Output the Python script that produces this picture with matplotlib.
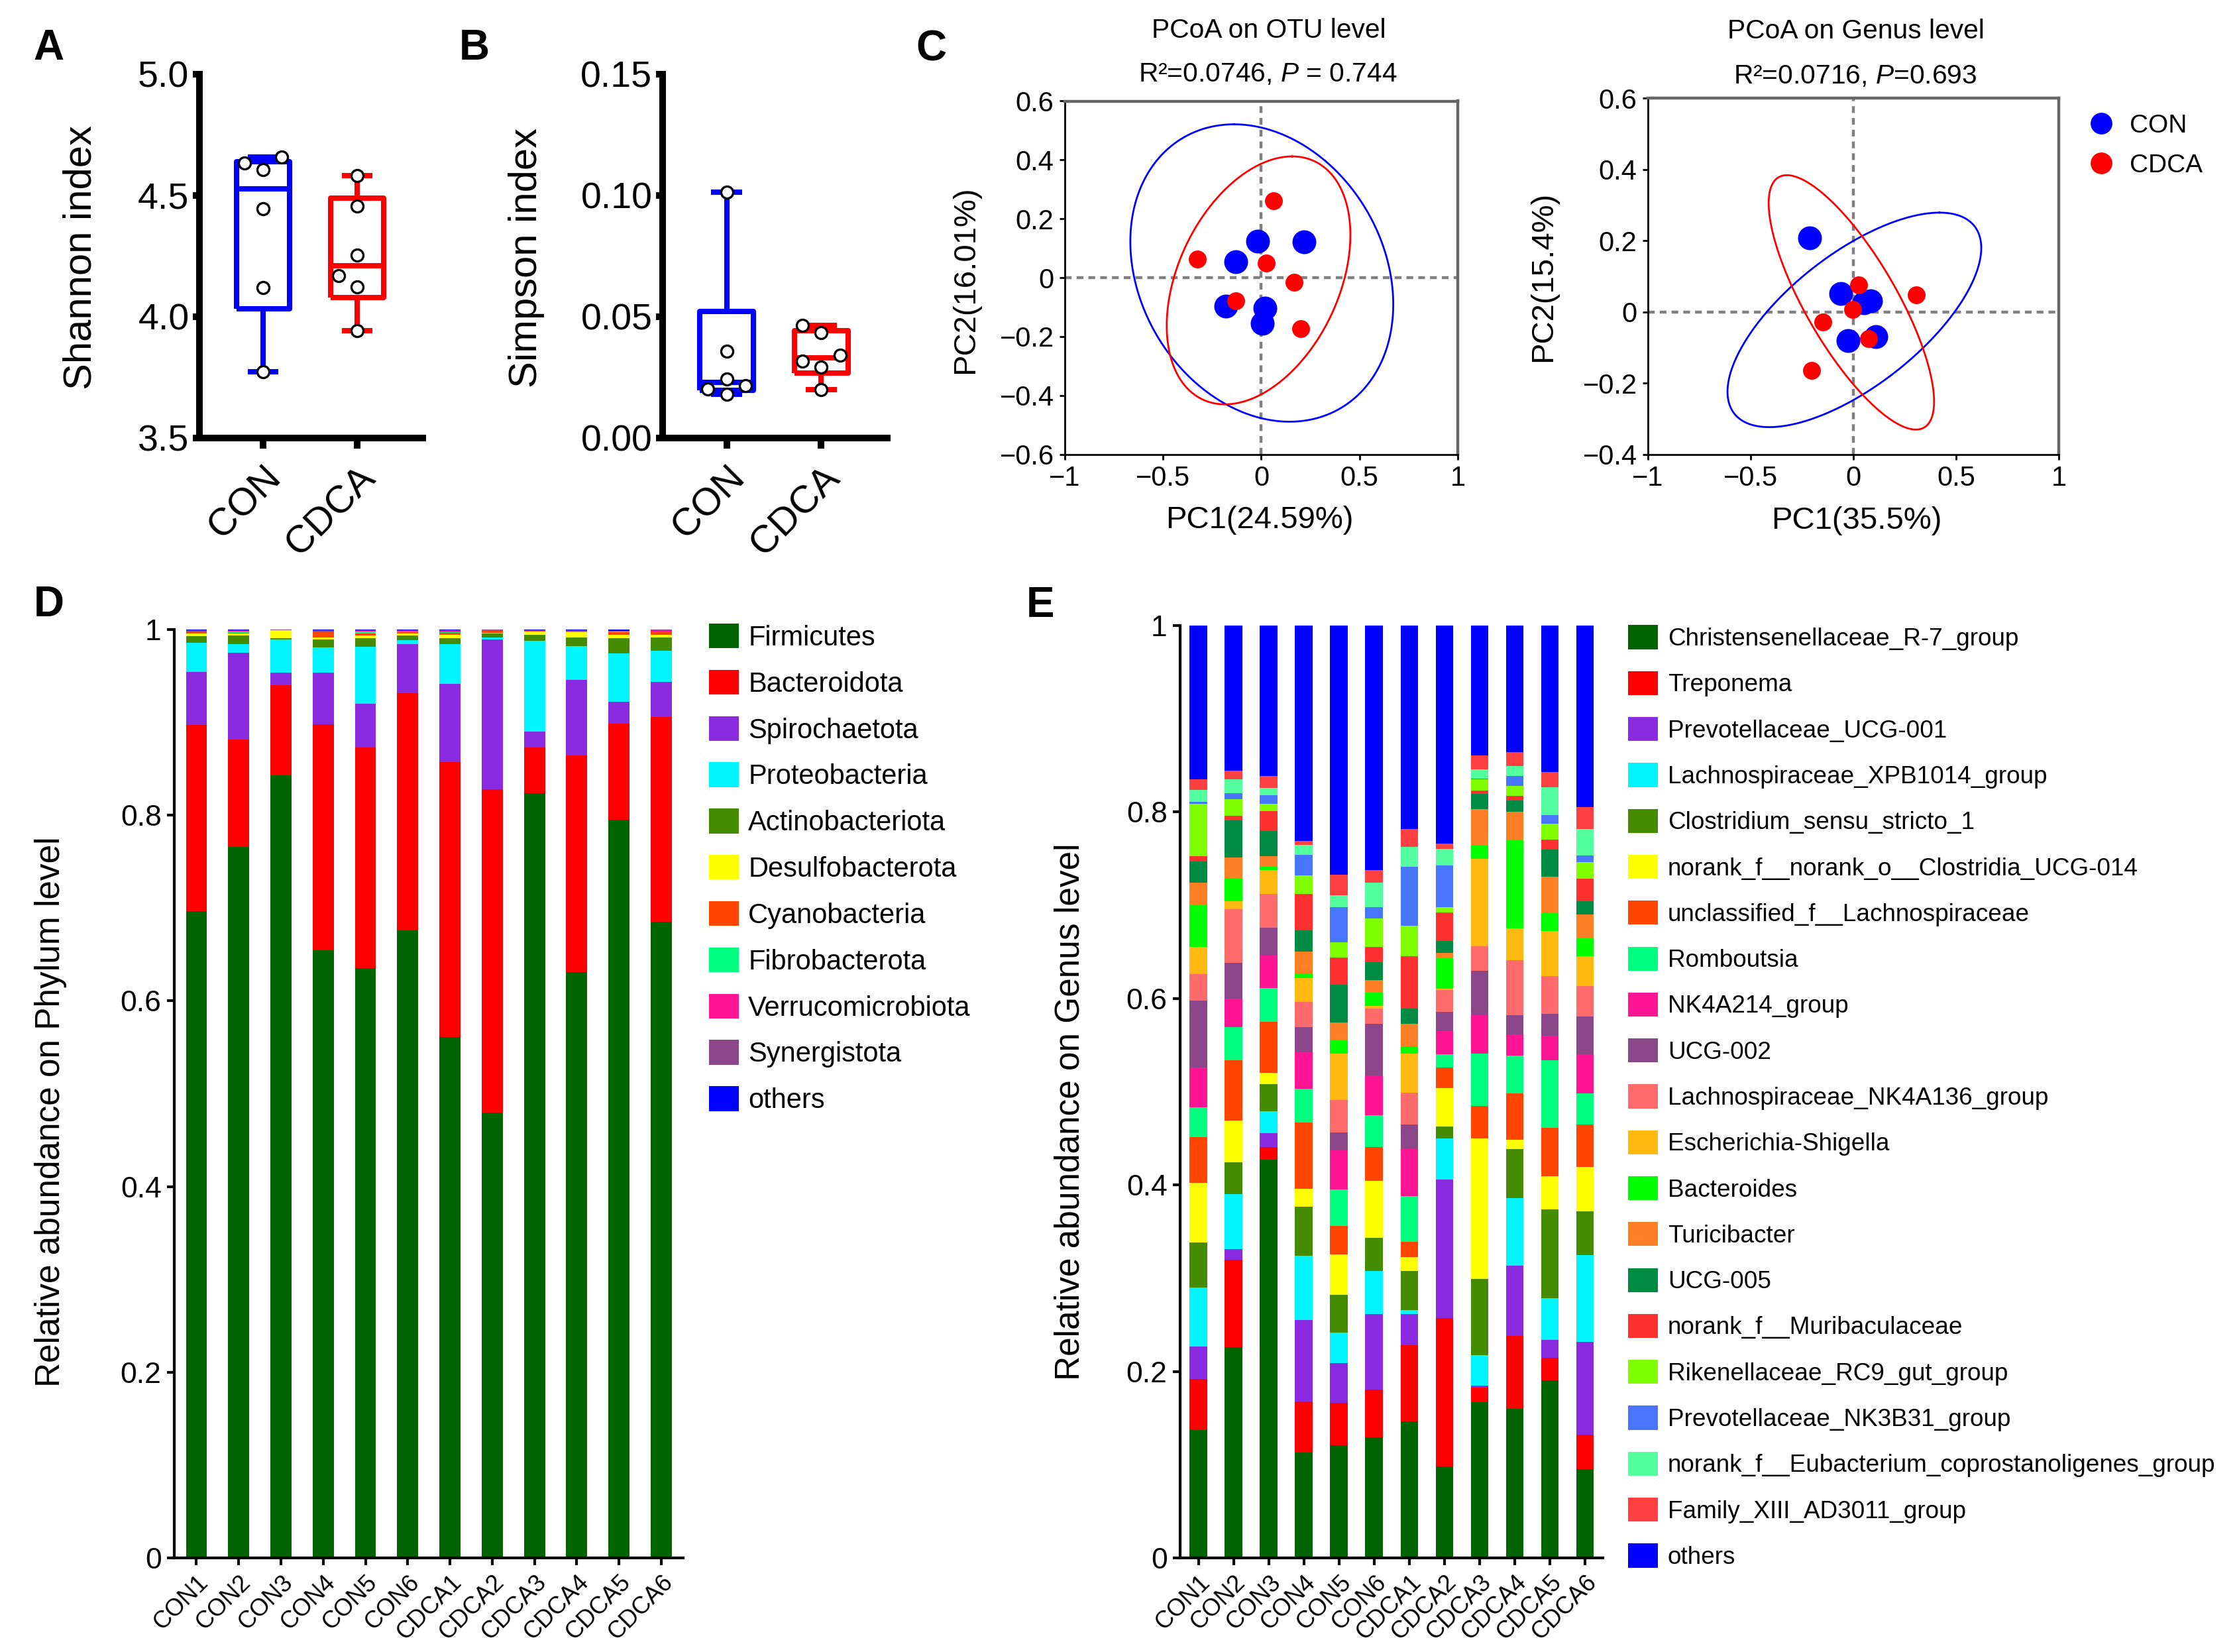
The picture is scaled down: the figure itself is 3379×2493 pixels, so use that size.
import numpy as np
import matplotlib
matplotlib.use('Agg')
import matplotlib.pyplot as plt
from matplotlib.lines import Line2D
from matplotlib.patches import Patch

plt.rcParams['font.family'] = ['Liberation Sans', 'DejaVu Sans']
plt.rcParams['mathtext.fontset'] = 'custom'
plt.rcParams['mathtext.rm'] = 'Liberation Sans'
plt.rcParams['mathtext.it'] = 'Liberation Sans:italic'

W, H = 3380, 2493
DPI = 200

# ---------------- data ----------------
groups = ['CON', 'CDCA']
samples = ['CON1', 'CON2', 'CON3', 'CON4', 'CON5', 'CON6',
           'CDCA1', 'CDCA2', 'CDCA3', 'CDCA4', 'CDCA5', 'CDCA6']

shannon_con = [4.634, 4.657, 4.607, 4.444, 4.120, 3.773]
shannon_cdca = [4.581, 4.456, 4.254, 4.168, 4.123, 3.942]
simpson_con = [0.1012, 0.0357, 0.0217, 0.0179, 0.0201, 0.0243]
simpson_cdca = [0.0464, 0.0435, 0.0342, 0.0317, 0.0291, 0.0198]

# PCoA scores
otu_con_pc1 = [-0.0185, 0.2167, -0.130, -0.180, 0.0185, 0.0056]
otu_con_pc2 = [0.125, 0.122, 0.054, -0.0975, -0.104, -0.1556]
otu_cdca_pc1 = [0.061, -0.324, 0.024, 0.1667, -0.130, 0.200]
otu_cdca_pc2 = [0.2605, 0.064, 0.0506, -0.016, -0.079, -0.174]
genus_con_pc1 = [-0.213, -0.0623, 0.0516, 0.084, -0.0248, 0.1087]
genus_con_pc2 = [0.207, 0.052, 0.026, 0.031, -0.081, -0.070]
genus_cdca_pc1 = [0.026, 0.305, -0.004, -0.148, 0.074, -0.203]
genus_cdca_pc2 = [0.0755, 0.0477, 0.006, -0.028, -0.075, -0.165]

# confidence ellipses: centre, two conjugate semi-diameters
otu_con_ell = ((0.0025, 0.016), (-0.1415, 0.505), (0.654, 0.0))
otu_cdca_ell = ((-0.014, -0.009), (0.171, 0.421), (0.435, 0.0))
genus_con_ell = ((0.005, -0.0225), (0.414, 0.301), (0.4584, 0.0))
genus_cdca_ell = ((-0.0097, 0.0266), (-0.314, 0.357), (0.252, 0.0))

phyla = ['Firmicutes', 'Bacteroidota', 'Spirochaetota', 'Proteobacteria',
         'Actinobacteriota', 'Desulfobacterota', 'Cyanobacteria', 'Fibrobacterota',
         'Verrucomicrobiota', 'Synergistota', 'others']
phylum_colors = ['#006400', '#FF0000', '#8A2BE2', '#00F5FF', '#458B00', '#FFFF00',
                 '#FF4500', '#00FF7F', '#FF1493', '#8B4789', '#0000FF']

# cumulative tops of each phylum (bottom to top), 'others' fills up to 1
phy_con1 = [0.697, 0.897, 0.9545, 0.9854, 0.9927, 0.9955, 0.997, 0.9975, 0.998, 0.9995]
phy_con2 = [0.766, 0.8816, 0.9752, 0.9843, 0.9934, 0.9956, 0.9962, 0.998, 0.9983, 0.9995]
phy_con3 = [0.843, 0.940, 0.9537, 0.989, 0.991, 0.999, 0.9993, 0.9994, 0.9995, 0.9998]
phy_con4 = [0.6547, 0.8976, 0.9534, 0.9807, 0.989, 0.9916, 0.997, 0.9975, 0.998, 0.999]
phy_con5 = [0.6353, 0.8732, 0.920, 0.9814, 0.9909, 0.9934, 0.9956, 0.998, 0.9983, 0.9995]
phy_con6 = [0.676, 0.9315, 0.9843, 0.9887, 0.9934, 0.9956, 0.9975, 0.998, 0.9983, 0.9995]
phy_cdca1 = [0.561, 0.8572, 0.9413, 0.9843, 0.9909, 0.9945, 0.9967, 0.997, 0.999, 0.9995]
phy_cdca2 = [0.480, 0.8277, 0.989, 0.9916, 0.9956, 0.9962, 0.999, 0.9992, 0.9994, 0.9998]
phy_cdca3 = [0.824, 0.8732, 0.890, 0.988, 0.9945, 0.998, 0.9985, 0.9988, 0.999, 0.9996]
phy_cdca4 = [0.631, 0.8645, 0.9454, 0.9818, 0.9916, 0.997, 0.9975, 0.9978, 0.998, 0.9995]
phy_cdca5 = [0.7953, 0.8987, 0.9224, 0.9741, 0.9909, 0.9945, 0.9975, 0.9978, 0.998, 0.9985]
phy_cdca6 = [0.6849, 0.906, 0.9435, 0.9774, 0.9916, 0.9945, 0.998, 0.9982, 0.9995, 0.9998]

genera = ['Christensenellaceae_R-7_group', 'Treponema', 'Prevotellaceae_UCG-001',
          'Lachnospiraceae_XPB1014_group', 'Clostridium_sensu_stricto_1',
          'norank_f__norank_o__Clostridia_UCG-014', 'unclassified_f__Lachnospiraceae',
          'Romboutsia', 'NK4A214_group', 'UCG-002', 'Lachnospiraceae_NK4A136_group',
          'Escherichia-Shigella', 'Bacteroides', 'Turicibacter', 'UCG-005',
          'norank_f__Muribaculaceae', 'Rikenellaceae_RC9_gut_group',
          'Prevotellaceae_NK3B31_group', 'norank_f__Eubacterium_coprostanoligenes_group',
          'Family_XIII_AD3011_group', 'others']
genus_colors = ['#006400', '#FF0000', '#8A2BE2', '#00F5FF', '#458B00', '#FFFF00',
                '#FF4500', '#00FF7F', '#FF1493', '#8B4789', '#FF6A6A', '#FFB90F',
                '#00FF00', '#FF7F24', '#008B45', '#FF3030', '#7FFF00', '#4876FF',
                '#54FF9F', '#FF4040', '#0000FF']

gen_con1 = [0.137, 0.192, 0.227, 0.290, 0.338, 0.4025, 0.451, 0.483, 0.526, 0.598,
            0.626, 0.655, 0.700, 0.724, 0.747, 0.753, 0.809, 0.811, 0.824, 0.835]
gen_con2 = [0.226, 0.320, 0.331, 0.390, 0.424, 0.469, 0.534, 0.569, 0.600, 0.638,
            0.696, 0.704, 0.729, 0.751, 0.791, 0.796, 0.814, 0.820, 0.835, 0.844]
gen_con3 = [0.427, 0.4406, 0.4558, 0.479, 0.508, 0.520, 0.575, 0.611, 0.646, 0.676,
            0.712, 0.738, 0.741, 0.753, 0.780, 0.801, 0.809, 0.818, 0.826, 0.839]
gen_con4 = [0.113, 0.168, 0.255, 0.324, 0.377, 0.396, 0.467, 0.503, 0.542, 0.569,
            0.596, 0.622, 0.627, 0.650, 0.673, 0.712, 0.732, 0.754, 0.765, 0.769]
gen_con5 = [0.121, 0.166, 0.209, 0.242, 0.282, 0.3255, 0.356, 0.395, 0.437, 0.456,
            0.491, 0.541, 0.556, 0.574, 0.615, 0.644, 0.660, 0.698, 0.711, 0.733]
gen_con6 = [0.1295, 0.1806, 0.2615, 0.308, 0.3435, 0.4047, 0.441, 0.475, 0.5176, 0.5727,
            0.589, 0.592, 0.606, 0.620, 0.639, 0.655, 0.686, 0.698, 0.7245, 0.738]
gen_cdca1 = [0.1464, 0.2284, 0.2615, 0.266, 0.308, 0.3227, 0.339, 0.388, 0.4385, 0.4645,
             0.499, 0.541, 0.549, 0.573, 0.589, 0.645, 0.678, 0.741, 0.7624, 0.7816]
gen_cdca2 = [0.0978, 0.257, 0.406, 0.4496, 0.463, 0.504, 0.5257, 0.540, 0.565, 0.5857,
             0.609, 0.6106, 0.643, 0.649, 0.6616, 0.692, 0.698, 0.743, 0.7604, 0.7665]
gen_cdca3 = [0.1669, 0.183, 0.185, 0.2176, 0.299, 0.4496, 0.4849, 0.5408, 0.582, 0.6298,
             0.6563, 0.750, 0.7645, 0.803, 0.8196, 0.823, 0.835, 0.836, 0.846, 0.861]
gen_cdca4 = [0.160, 0.238, 0.3137, 0.3856, 0.4388, 0.4486, 0.498, 0.5388, 0.5616, 0.582,
             0.6408, 0.6755, 0.7698, 0.800, 0.8127, 0.8176, 0.8278, 0.839, 0.8494, 0.8645]
gen_cdca5 = [0.1906, 0.2147, 0.2338, 0.2784, 0.374, 0.4097, 0.461, 0.534, 0.5604, 0.5837,
             0.6237, 0.6727, 0.6918, 0.7306, 0.760, 0.7706, 0.7878, 0.797, 0.8265, 0.8429]
gen_cdca6 = [0.0953, 0.132, 0.2317, 0.3245, 0.372, 0.419, 0.4645, 0.4984, 0.540, 0.5808,
             0.6135, 0.645, 0.6645, 0.6902, 0.7045, 0.7286, 0.7461, 0.7535, 0.782, 0.8053]

phylum_tops = [phy_con1, phy_con2, phy_con3, phy_con4, phy_con5, phy_con6,
               phy_cdca1, phy_cdca2, phy_cdca3, phy_cdca4, phy_cdca5, phy_cdca6]
genus_tops = [gen_con1, gen_con2, gen_con3, gen_con4, gen_con5, gen_con6,
              gen_cdca1, gen_cdca2, gen_cdca3, gen_cdca4, gen_cdca5, gen_cdca6]


# ---------------- helpers ----------------
def px_box(l, t, r, b):
    return [l / W, 1 - b / H, (r - l) / W, (b - t) / H]


def fig_text(x, y, s, **kw):
    fig.text(x / W, 1 - y / H, s, ha='center', va='center', **kw)


def swarm(vals, ypx, xpx, step=28, mind=22):
    # simple beeswarm: same-slot points closer than mind px get moved sideways
    vals = np.asarray(vals)
    slots = {}
    offs = np.zeros(len(vals))
    for i in np.argsort(vals):
        y = vals[i] * ypx
        for s in [0, -1, 1, -2, 2]:
            if all(abs(y - yy) >= mind for yy in slots.get(s, [])):
                slots.setdefault(s, []).append(y)
                offs[i] = s * step / xpx
                break
    return offs


def alpha_panel(rect, con, cdca, ylim, yticks, yticklabels):
    ax = fig.add_axes(px_box(*rect))
    ax.set_xlim(0.324, 2.697)
    ax.set_ylim(*ylim)
    ypx = (rect[3] - rect[1]) / (ylim[1] - ylim[0])
    for pos, vals, col in [(1, con, '#0000FF'), (2, cdca, '#FF0000')]:
        v = np.asarray(vals)
        q1, med, q3 = np.percentile(v, [25, 50, 75], method='weibull')
        st = [dict(med=med, q1=q1, q3=q3, whislo=v.min(), whishi=v.max(), fliers=[])]
        lp = dict(color=col, lw=2.9, solid_capstyle='butt')
        ax.bxp(st, positions=[pos], widths=0.57, capwidths=0.33, showfliers=False,
               boxprops=lp, whiskerprops=lp, capprops=lp, medianprops=lp,
               manage_ticks=False)
        ax.plot(pos + swarm(v, ypx, 142), v, 'o', ms=6.5, mfc='white', mec='black',
                mew=1.2, zorder=5, clip_on=False)
    for s in ['top', 'right']:
        ax.spines[s].set_visible(False)
    for s in ['left', 'bottom']:
        ax.spines[s].set_linewidth(3.6)
    ax.set_yticks(yticks)
    ax.set_yticklabels(yticklabels, fontsize=20)
    ax.set_xticks([1, 2])
    ax.set_xticklabels(groups, fontsize=21, rotation=45, ha='right',
                       rotation_mode='anchor')
    ax.tick_params(axis='y', length=3.6, width=3.6, pad=2)
    ax.tick_params(axis='x', length=5.8, width=3.6, pad=6)
    return ax


def pcoa_panel(rect, ylim, yticks, yticklabels, cx, cy, dx, dy, ell_con, ell_cdca):
    ax = fig.add_axes(px_box(*rect))
    ax.set_xlim(-1, 1)
    ax.set_ylim(*ylim)
    ax.axhline(0, color='#808080', lw=1.6, ls=(0, (2.3, 1.7)), zorder=1)
    ax.axvline(0, color='#808080', lw=1.6, ls=(0, (2.3, 1.7)), zorder=1)
    t = np.linspace(0, 2 * np.pi, 400)
    for ell, col in [(ell_con, '#0000FF'), (ell_cdca, '#FF0000')]:
        c, u, v = ell
        ax.plot(c[0] + u[0] * np.cos(t) + v[0] * np.sin(t),
                c[1] + u[1] * np.cos(t) + v[1] * np.sin(t), color=col, lw=1.0, zorder=2)
    ax.scatter(cx, cy, s=168, c='#0000FF', linewidths=0, zorder=3)
    ax.scatter(dx, dy, s=94, c='#FF0000', linewidths=0, zorder=4)
    for s in ['left', 'bottom']:
        ax.spines[s].set_linewidth(1.0)
        ax.spines[s].set_color('black')
    for s in ['top', 'right']:
        ax.spines[s].set_linewidth(1.6)
        ax.spines[s].set_color('#666666')
    ax.set_xticks([-1, -0.5, 0, 0.5, 1])
    ax.set_xticklabels(['\u22121', '\u22120.5', '0', '0.5', '1'], fontsize=15)
    ax.set_yticks(yticks)
    ax.set_yticklabels(yticklabels, fontsize=15)
    ax.tick_params(length=2.9, width=1.0, pad=3)
    return ax


def stacked_panel(rect, xlim, tops, names, colors, leg_kw):
    ax = fig.add_axes(px_box(*rect))
    cum = np.array([np.r_[0.0, tp, 1.0] for tp in tops])
    x = np.arange(len(samples))
    for j in range(len(names)):
        ax.bar(x, cum[:, j + 1] - cum[:, j], bottom=cum[:, j], width=0.5,
               color=colors[j], linewidth=0)
    ax.set_xlim(*xlim)
    ax.set_ylim(0, 1)
    for s in ['top', 'right']:
        ax.spines[s].set_visible(False)
    for s in ['left', 'bottom']:
        ax.spines[s].set_linewidth(1.5)
    ax.set_yticks([0, 0.2, 0.4, 0.6, 0.8, 1])
    ax.set_yticklabels(['0', '0.2', '0.4', '0.6', '0.8', '1'], fontsize=16)
    ax.set_xticks(x)
    ax.set_xticklabels(samples, fontsize=13, rotation=45, ha='right',
                       rotation_mode='anchor')
    ax.tick_params(length=4, width=1.5, pad=3)
    handles = [Patch(facecolor=c, edgecolor='none', label=n) for n, c in zip(names, colors)]
    ax.legend(handles=handles, loc='upper left', bbox_transform=fig.transFigure,
              frameon=False, borderpad=0, borderaxespad=0, **leg_kw)
    return ax


# ---------------- figure ----------------
fig = plt.figure(figsize=(W / DPI, H / DPI), dpi=DPI)

alpha_panel((301, 111.6, 638, 661), shannon_con, shannon_cdca, (3.5, 5.0),
            [3.5, 4.0, 4.5, 5.0], ['3.5', '4.0', '4.5', '5.0'])
alpha_panel((1000, 111.6, 1339, 661), simpson_con, simpson_cdca, (0, 0.15),
            [0, 0.05, 0.10, 0.15], ['0.00', '0.05', '0.10', '0.15'])
fig_text(122, 389, 'Shannon index', fontsize=21.5, rotation=90)
fig_text(795, 389, 'Simpson index', fontsize=21.5, rotation=90)

pcoa_panel((1607, 152.5, 2200, 685.7), (-0.6, 0.6),
           [-0.6, -0.4, -0.2, 0, 0.2, 0.4, 0.6],
           ['\u22120.6', '\u22120.4', '\u22120.2', '0', '0.2', '0.4', '0.6'],
           otu_con_pc1, otu_con_pc2, otu_cdca_pc1, otu_cdca_pc2, otu_con_ell, otu_cdca_ell)
pcoa_panel((2487, 148, 3107, 685.7), (-0.4, 0.6),
           [-0.4, -0.2, 0, 0.2, 0.4, 0.6],
           ['\u22120.4', '\u22120.2', '0', '0.2', '0.4', '0.6'],
           genus_con_pc1, genus_con_pc2, genus_cdca_pc1, genus_cdca_pc2,
           genus_con_ell, genus_cdca_ell)
fig_text(1915, 46, 'PCoA on OTU level', fontsize=14.7)
fig_text(1913, 112, 'R\u00b2=0.0746, $\\mathit{P}$ = 0.744', fontsize=14.7)
fig_text(2801, 47, 'PCoA on Genus level', fontsize=14.7)
fig_text(2800, 115, 'R\u00b2=0.0716, $\\mathit{P}$=0.693', fontsize=14.7)
fig_text(1901, 785, 'PC1(24.59%)', fontsize=17)
fig_text(2802, 786, 'PC1(35.5%)', fontsize=17)
fig_text(1457, 422, 'PC2(16.01%)', fontsize=17, rotation=90)
fig_text(2329, 417, 'PC2(15.4%)', fontsize=17, rotation=90)

leg_handles = [Line2D([], [], marker='o', ls='', color=c, ms=10.8)
               for c in ['#0000FF', '#FF0000']]
fig.legend(leg_handles, groups, loc='upper left',
           bbox_to_anchor=(3151.5 / W, 1 - 171.5 / H), frameon=False, fontsize=14,
           handlelength=1.0, handletextpad=0.6, labelspacing=0.62,
           borderpad=0, borderaxespad=0)

stacked_panel((263, 950, 1031, 2351), (-0.525, 11.52), phylum_tops, phyla, phylum_colors,
              dict(bbox_to_anchor=(1070 / W, 1 - 941 / H), fontsize=15,
                   handlelength=1.08, handleheight=1.0, handletextpad=0.34,
                   labelspacing=0.67))
stacked_panel((1781, 944, 2419, 2351), (-0.52, 11.51), genus_tops, genera, genus_colors,
              dict(bbox_to_anchor=(2457 / W, 1 - 943.5 / H), fontsize=13.3,
                   handlelength=1.23, handleheight=1.13, handletextpad=0.39,
                   labelspacing=0.83))
fig_text(77, 1678, 'Relative abundance on Phylum level', fontsize=18.5, rotation=90)
fig_text(1615, 1678, 'Relative abundance on Genus level', fontsize=18.5, rotation=90)

for s, x, y in [('A', 73, 73), ('B', 716, 73), ('C', 1405, 75),
                ('D', 74, 913), ('E', 1570, 914)]:
    fig_text(x, y, s, fontsize=23, fontweight='bold')

fig.savefig('out.png', dpi=DPI)
